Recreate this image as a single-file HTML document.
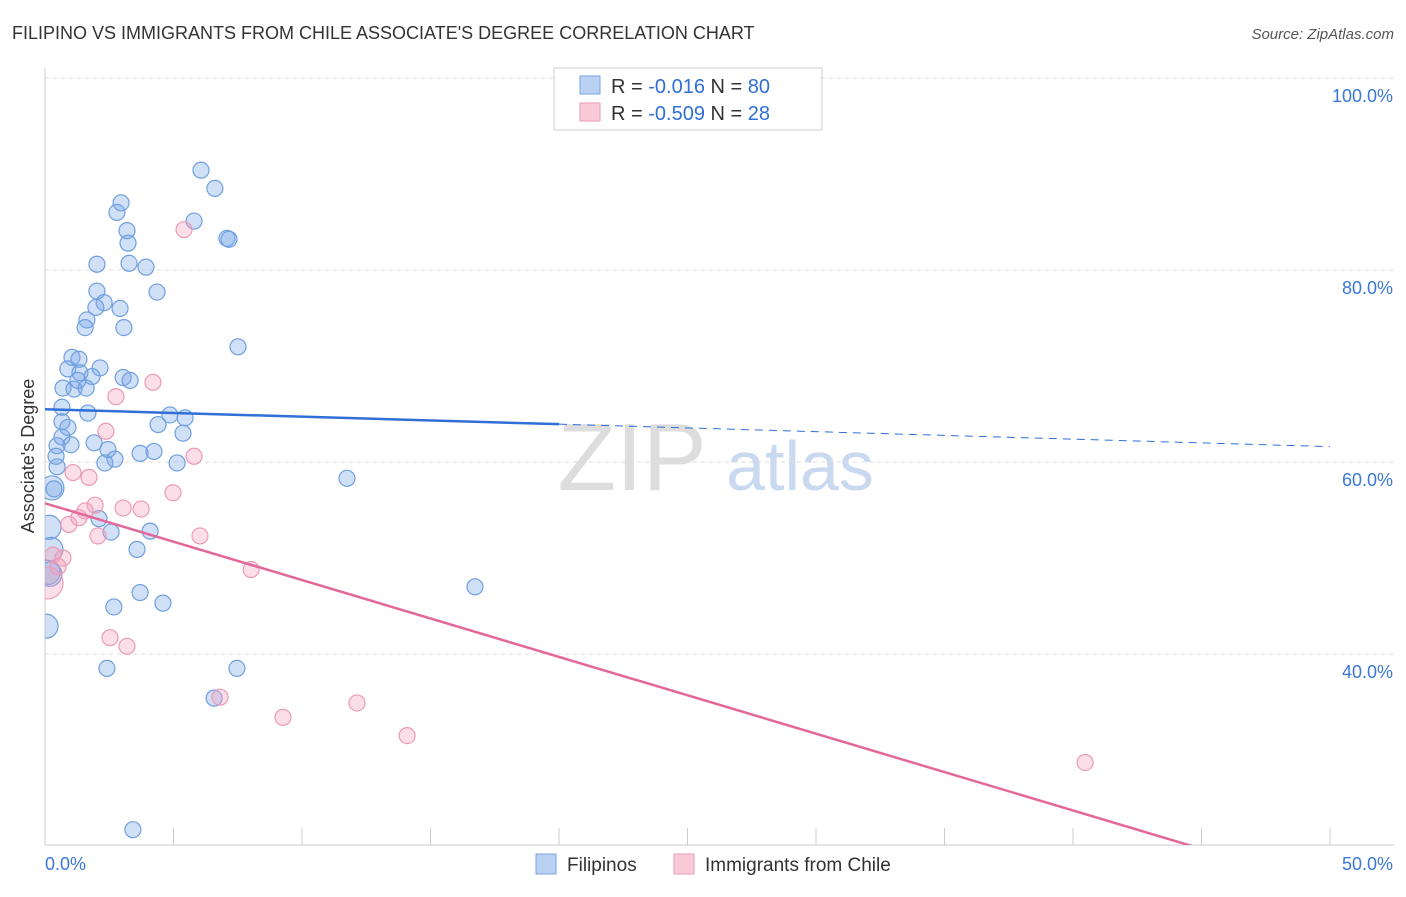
<!DOCTYPE html>
<html><head><meta charset="utf-8"><style>
body{margin:0;background:#fff;font-family:"Liberation Sans",sans-serif;}
svg text{font-family:"Liberation Sans",sans-serif;}
</style></head><body>
<svg id="chart" width="1406" height="892" xmlns="http://www.w3.org/2000/svg">
<text x="12" y="39" font-size="18" fill="#333">FILIPINO VS IMMIGRANTS FROM CHILE ASSOCIATE'S DEGREE CORRELATION CHART</text>
<text x="1394" y="39" font-size="15" fill="#555" text-anchor="end" font-style="italic">Source: ZipAtlas.com</text>
<g>
<text x="632" y="490" font-size="96" fill="#ddd" text-anchor="middle" font-family="Liberation Serif, serif">ZIP</text>
<text x="800" y="490" font-size="70" fill="#c9daf0" text-anchor="middle">atlas</text>
</g>
<g id="grid"></g>
<g id="axes"></g>
<clipPath id="plotclip"><rect x="45" y="60" width="1350" height="785"/></clipPath>
<g id="marks" clip-path="url(#plotclip)"></g>
<text transform="translate(34,456) rotate(-90)" font-size="18" fill="#333" text-anchor="middle">Associate's Degree</text>
<g>
<rect x="554" y="68" width="268" height="62" fill="#fff" stroke="#ccc"/>
<rect x="580" y="76" width="20" height="18" fill="#b9d1f3" stroke="#7aa5e3"/>
<text x="611" y="93" font-size="20" fill="#333">R = <tspan fill="#2f6fd6">-0.016</tspan>   N = <tspan fill="#2f6fd6">80</tspan></text>
<rect x="580" y="103" width="20" height="18" fill="#f9c9d8" stroke="#eb9ab6"/>
<text x="611" y="120" font-size="20" fill="#333">R = <tspan fill="#2f6fd6">-0.509</tspan>   N = <tspan fill="#2f6fd6">28</tspan></text>
</g>
<g>
<rect x="536" y="854" width="20" height="20" fill="#b9d1f3" stroke="#7aa5e3"/>
<text x="567" y="871" font-size="19" fill="#333">Filipinos</text>
<rect x="674" y="854" width="20" height="20" fill="#f9c9d8" stroke="#eb9ab6"/>
<text x="705" y="871" font-size="19" fill="#333">Immigrants from Chile</text>
</g>
</svg>
<script>
const yTicks=[40,60,80,100];
const yTickLabels=["40.0%","60.0%","80.0%","100.0%"];
const xTicks=[0,5,10,15,20,25,30,35,40,45,50];
const xEndLabels=["0.0%","50.0%"];
const filipinoX=[6.07,6.61,2.96,2.80,5.80,3.19,7.08,7.16,3.23,2.02,3.27,3.93,4.36,2.02,2.30,1.98,2.92,1.63,1.56,3.07,7.51,1.05,1.32,0.89,2.14,1.36,1.83,3.04,3.31,0.70,1.13,1.60,1.28,0.66,1.67,4.86,5.45,4.40,0.66,0.89,5.37,0.66,1.01,1.91,2.45,0.47,2.72,3.70,4.24,0.43,2.33,5.14,0.47,11.75,0.27,0.35,2.10,0.16,2.57,4.09,0.23,3.58,0.19,0.12,16.73,3.70,2.68,4.59,0.04,2.41,7.47,6.58,3.42];
const filipinoY=[90.4,88.5,87.0,86.0,85.1,84.1,83.3,83.2,82.8,80.6,80.7,80.3,77.7,77.8,76.6,76.1,76.0,74.8,74.0,74.0,72.0,70.9,70.7,69.7,69.8,69.3,68.9,68.8,68.5,67.7,67.6,67.7,68.5,65.7,65.1,64.9,64.6,63.9,64.2,63.6,63.0,62.6,61.8,62.0,61.3,61.7,60.3,60.9,61.1,60.6,59.9,59.9,59.5,58.3,57.3,57.2,54.1,53.2,52.7,52.8,50.9,50.9,48.3,48.5,47.0,46.4,44.9,45.3,42.9,38.5,38.5,35.4,21.7];
const chileX=[5.41,4.20,2.76,2.37,5.80,1.09,1.71,4.98,1.95,3.04,3.74,1.56,1.32,0.93,6.03,2.06,0.31,0.70,0.51,0.08,8.02,2.53,3.19,6.81,9.26,12.14,14.09,40.47];
const chileY=[84.2,68.3,66.8,63.2,60.6,58.9,58.4,56.8,55.5,55.2,55.1,54.9,54.2,53.5,52.3,52.3,50.3,50.0,49.1,47.4,48.8,41.7,40.8,35.5,33.4,34.9,31.5,28.7];
const filipinoTrend=[65.5,61.6];
const chileTrend=[55.7,15.7];

const NS="http://www.w3.org/2000/svg";
function xs(v){return 45+v*25.7;}
function ys(v){return 1038-v*9.6;}
function mk(tag,attrs,parent){const e=document.createElementNS(NS,tag);for(const k in attrs)e.setAttribute(k,attrs[k]);parent.appendChild(e);return e;}
const grid=document.getElementById('grid'),axes=document.getElementById('axes'),marks=document.getElementById('marks');
yTicks.forEach((t,i)=>{
 const l=mk('line',{x1:45,x2:1394,y1:ys(t),y2:ys(t),stroke:'#ddd','stroke-dasharray':'4,4'},grid);
 
 
 const tx=mk('text',{x:1393,y:ys(t)+24,'font-size':18,fill:'#3b78d8','text-anchor':'end'},axes);
 tx.textContent=yTickLabels[i];
 
 
});
const ax=mk('line',{x1:45,x2:1394,y1:845,y2:845,stroke:'#ccc'},axes);


const ay=mk('line',{x1:45,x2:45,y1:68,y2:845,stroke:'#ccc'},axes);


xTicks.forEach(t=>{
 const l=mk('line',{x1:xs(t),x2:xs(t),y1:828,y2:845,stroke:'#ccc'},axes);
 
 
});
const xl0=mk('text',{x:45,y:870,'font-size':18,fill:'#3b78d8'},axes);xl0.textContent=xEndLabels[0];


const xl1=mk('text',{x:1393,y:870,'font-size':18,fill:'#3b78d8','text-anchor':'end'},axes);xl1.textContent=xEndLabels[1];


filipinoX.forEach((x,i)=>{
 const r=(x<0.3)?12:8;
 const c=mk('circle',{cx:xs(x),cy:ys(filipinoY[i]),r:r,fill:'rgba(120,165,230,0.35)',stroke:'#6f9fe0','stroke-width':1.2},marks);
 
 
});
chileX.forEach((x,i)=>{
 const r=(x<0.2)?16:8;
 const c=mk('circle',{cx:xs(x),cy:ys(chileY[i]),r:r,fill:'rgba(245,160,190,0.35)',stroke:'#eb9ab6','stroke-width':1.2},marks);
 
 
});
const split=20;
const fy=v=>filipinoTrend[0]+(filipinoTrend[1]-filipinoTrend[0])*v/50;
const b1=mk('line',{x1:xs(0),y1:ys(fy(0)),x2:xs(split),y2:ys(fy(split)),stroke:'#2f6fd6','stroke-width':2.5},marks);


const b2=mk('line',{x1:xs(split),y1:ys(fy(split)),x2:xs(50),y2:ys(fy(50)),stroke:'#2f6fd6','stroke-width':1,'stroke-dasharray':'8,6'},marks);


const p1=mk('line',{x1:xs(0),y1:ys(chileTrend[0]),x2:xs(50),y2:ys(chileTrend[1]),stroke:'#e4679a','stroke-width':2.5},marks);


</script>
</body></html>
